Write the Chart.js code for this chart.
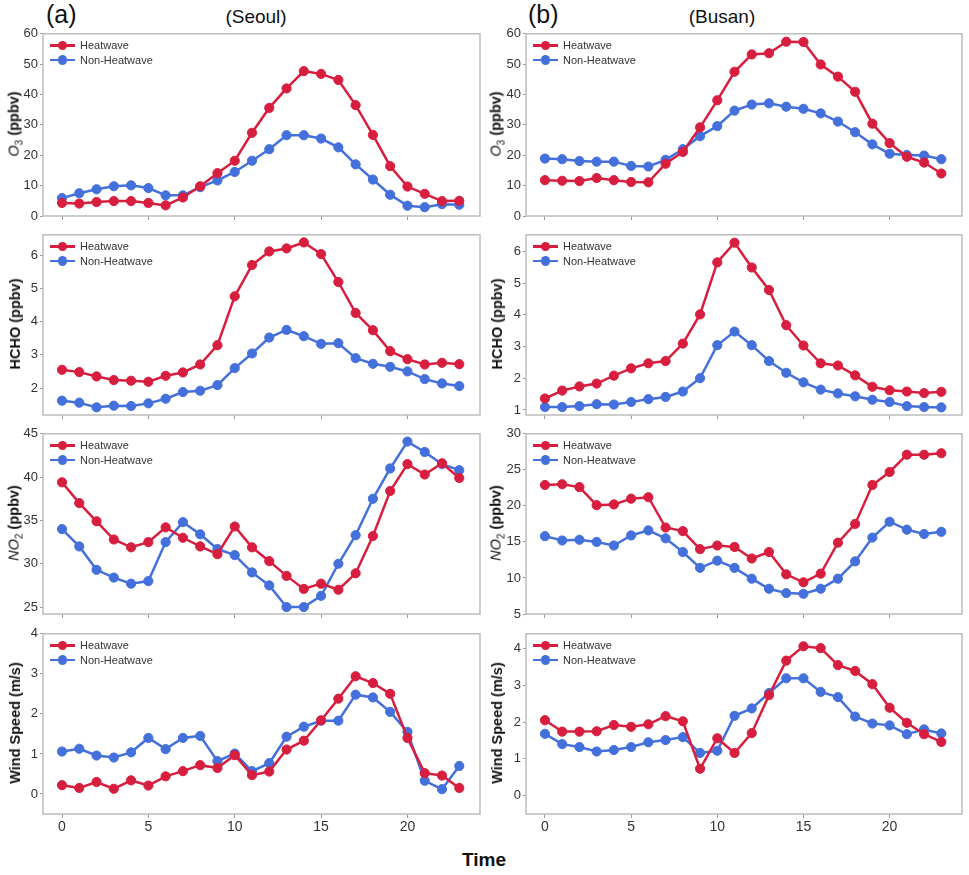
<!DOCTYPE html>
<html>
<head>
<meta charset="utf-8">
<script src="https://cdn.jsdelivr.net/npm/chart.js@4.4.1/dist/chart.umd.min.js"></script>
<style>
  body { margin: 0; background: #fff; font-family: "Liberation Sans", Arial, sans-serif; }
  #page { position: relative; width: 969px; height: 875px; overflow: hidden; }
  canvas.panel { position: absolute; }
  .ytitle { position: absolute; transform: translate(-50%, -50%) rotate(-90deg); white-space: nowrap; font-size: 14.5px; color: #111; }
  .ytitle sub { font-size: 10px; }
  .legend { position: absolute; font-size: 11px; color: #333; }
  .legend .item { height: 14.3px; line-height: 14.3px; position: relative; padding-left: 30px; white-space: nowrap; }
  .legend .ln { position: absolute; left: 0; top: 6px; width: 25px; height: 2.5px; }
  .legend .dot { position: absolute; left: 7.5px; top: 2.6px; width: 9.5px; height: 9.5px; border-radius: 50%; }
  .lab { position: absolute; white-space: nowrap; color: #111; }
</style>
</head>
<body>
<div id="page">
  <div class="lab" style="left:46px; top:0px; font-size:25px;">(a)</div>
  <div class="lab" style="left:256px; top:17px; font-size:19px; transform:translate(-50%,-50%);">(Seoul)</div>
  <div class="lab" style="left:528px; top:0px; font-size:25px;">(b)</div>
  <div class="lab" style="left:722px; top:17px; font-size:19px; transform:translate(-50%,-50%);">(Busan)</div>
  <div class="lab" style="left:484px; top:860px; font-size:19px; font-weight:bold; transform:translate(-50%,-50%);">Time</div>
</div>
<script>
// hour of day
const hours = [0,1,2,3,4,5,6,7,8,9,10,11,12,13,14,15,16,17,18,19,20,21,22,23];
const seriesNames = ["Heatwave", "Non-Heatwave"];

// O3 (ppbv)
const seoulO3Heat = [4.3,4.1,4.6,4.9,4.9,4.3,3.5,6.1,9.8,14.1,18.2,27.4,35.6,42.0,47.7,46.8,44.8,36.5,26.7,16.4,9.7,7.3,4.9,5.0];
const seoulO3Non  = [5.9,7.5,8.8,9.8,10.1,9.2,6.8,6.8,9.5,11.7,14.5,18.2,22.0,26.6,26.6,25.5,22.6,17.0,12.0,7.0,3.4,2.9,3.9,3.7];
const busanO3Heat = [11.8,11.6,11.5,12.5,11.8,11.2,11.1,17.2,21.1,29.2,38.1,47.5,53.2,53.6,57.4,57.3,49.9,45.9,40.9,30.4,24.0,19.5,17.6,14.0];
const busanO3Non  = [18.9,18.7,18.1,17.9,17.9,16.5,16.3,18.5,22.0,26.3,29.6,34.7,36.7,37.1,36.0,35.3,33.8,31.1,27.6,23.6,20.5,20.1,19.9,18.7];

// HCHO (ppbv)
const seoulHchoHeat = [2.55,2.48,2.35,2.24,2.22,2.19,2.37,2.47,2.71,3.29,4.76,5.70,6.11,6.20,6.38,6.03,5.19,4.26,3.74,3.11,2.87,2.71,2.76,2.72];
const seoulHchoNon  = [1.62,1.56,1.42,1.47,1.46,1.54,1.68,1.88,1.92,2.09,2.60,3.04,3.52,3.75,3.56,3.33,3.35,2.90,2.73,2.64,2.50,2.27,2.14,2.06];
const busanHchoHeat = [1.36,1.61,1.74,1.83,2.08,2.31,2.47,2.54,3.09,4.01,5.65,6.27,5.49,4.78,3.67,3.03,2.47,2.40,2.09,1.73,1.62,1.58,1.53,1.57];
const busanHchoNon  = [1.09,1.09,1.12,1.18,1.17,1.25,1.34,1.41,1.58,2.00,3.04,3.47,3.04,2.54,2.17,1.87,1.64,1.52,1.43,1.32,1.25,1.12,1.09,1.08];

// NO2 (ppbv)
const seoulNo2Heat = [39.4,37.0,34.9,32.8,31.9,32.5,34.2,33.0,32.0,31.1,34.3,31.9,30.3,28.6,27.1,27.7,27.0,28.9,33.2,38.4,41.5,40.3,41.6,39.9];
const seoulNo2Non  = [34.0,32.0,29.3,28.4,27.7,28.0,32.5,34.8,33.4,31.7,31.0,29.0,27.5,25.0,25.0,26.3,30.0,33.3,37.5,41.0,44.1,42.9,41.5,40.8];
const busanNo2Heat = [22.9,23.0,22.6,20.1,20.2,21.0,21.2,17.0,16.5,14.0,14.5,14.3,12.7,13.6,10.5,9.4,10.6,14.9,17.5,22.9,24.7,27.1,27.1,27.3];
const busanNo2Non  = [15.8,15.2,15.3,15.0,14.5,15.9,16.6,15.5,13.6,11.4,12.4,11.4,9.9,8.5,7.9,7.8,8.5,9.9,12.3,15.6,17.8,16.7,16.1,16.4];

// Wind speed (m/s)
const seoulWindHeat = [0.22,0.15,0.30,0.13,0.34,0.21,0.44,0.57,0.72,0.65,0.97,0.47,0.56,1.11,1.33,1.84,2.38,2.94,2.77,2.50,1.40,0.52,0.46,0.15];
const seoulWindNon  = [1.06,1.13,0.96,0.91,1.04,1.40,1.12,1.40,1.45,0.82,1.01,0.57,0.77,1.43,1.68,1.83,1.83,2.48,2.41,2.05,1.55,0.33,0.12,0.70];
const busanWindHeat = [2.05,1.74,1.74,1.75,1.92,1.87,1.94,2.16,2.02,0.73,1.56,1.16,1.70,2.73,3.67,4.06,4.01,3.55,3.39,3.03,2.39,1.98,1.67,1.46];
const busanWindNon  = [1.68,1.40,1.32,1.20,1.24,1.32,1.45,1.51,1.59,1.16,1.22,2.17,2.37,2.79,3.19,3.19,2.82,2.68,2.15,1.96,1.91,1.67,1.80,1.69];

// tick labels
const xTicks = [0,5,10,15,20];
const o3Ticks = [0,10,20,30,40,50,60];
const seoulHchoTicks = [2,3,4,5,6];
const busanHchoTicks = [1,2,3,4,5,6];
const seoulNo2Ticks = [25,30,35,40,45];
const busanNo2Ticks = [5,10,15,20,25,30];
const windTicks = [0,1,2,3,4];

const RED = "#d81e3f";
const BLUE = "#4470dc";

// frame positions (px) of the plot boxes
const colLeft = [43, 526], colRight = [480, 962];
const rowTop = [32, 233, 432, 632], rowBottom = [216, 415, 614, 814];
const titleX = [15, 497];

const O3_T = '<i>O</i><sub>3</sub> <b>(ppbv)</b>';
const HCHO_T = '<b>HCHO (ppbv)</b>';
const NO2_T = '<i>NO</i><sub>2</sub> <b>(ppbv)</b>';
const WIND_T = '<b>Wind Speed (m/s)</b>';

const panels = [
  { col:0, row:0, heat:seoulO3Heat,   non:seoulO3Non,   min:0,    max:60,   ticks:o3Ticks,        title:O3_T },
  { col:1, row:0, heat:busanO3Heat,   non:busanO3Non,   min:0,    max:60,   ticks:o3Ticks,        title:O3_T },
  { col:0, row:1, heat:seoulHchoHeat, non:seoulHchoNon, min:1.19, max:6.61, ticks:seoulHchoTicks, title:HCHO_T },
  { col:1, row:1, heat:busanHchoHeat, non:busanHchoNon, min:0.84, max:6.52, ticks:busanHchoTicks, title:HCHO_T },
  { col:0, row:2, heat:seoulNo2Heat,  non:seoulNo2Non,  min:24.2, max:45,   ticks:seoulNo2Ticks,  title:NO2_T },
  { col:1, row:2, heat:busanNo2Heat,  non:busanNo2Non,  min:5,    max:30,   ticks:busanNo2Ticks,  title:NO2_T },
  { col:0, row:3, heat:seoulWindHeat, non:seoulWindNon, min:-0.5, max:4,    ticks:windTicks,      title:WIND_T },
  { col:1, row:3, heat:busanWindHeat, non:busanWindNon, min:-0.5, max:4.4,  ticks:windTicks,      title:WIND_T }
];

const framePlugin = {
  id: "frame",
  beforeDatasetsDraw(chart) {
    const { ctx, chartArea: a } = chart;
    ctx.save();
    ctx.strokeStyle = "#bdbdbd";
    ctx.lineWidth = 1.5;
    ctx.strokeRect(a.left, a.top, a.right - a.left, a.bottom - a.top);
    ctx.restore();
  }
};

const page = document.getElementById("page");

function series(label, values, color) {
  return {
    label: label,
    data: hours.map((h, i) => ({ x: h, y: values[i] })),
    borderColor: color,
    backgroundColor: color,
    borderWidth: 2.5,
    pointRadius: 4.6,
    pointBorderWidth: 1,
    tension: 0
  };
}

function makePanel(p) {
  const fl = colLeft[p.col], fr = colRight[p.col];
  const ft = rowTop[p.row], fb = rowBottom[p.row];
  const padL = 43, padT = 8, padR = 4, padB = 26;
  const w = fr - fl + padL + padR, h = fb - ft + padT + padB;

  const canvas = document.createElement("canvas");
  canvas.className = "panel";
  canvas.width = w; canvas.height = h;
  canvas.style.left = (fl - padL) + "px";
  canvas.style.top = (ft - padT) + "px";
  canvas.style.width = w + "px";
  canvas.style.height = h + "px";
  page.appendChild(canvas);

  const tickGrid = { drawOnChartArea: false, drawTicks: true, color: "#9a9a9a" };

  new Chart(canvas, {
    type: "line",
    data: {
      datasets: [
        series(seriesNames[0], p.heat, RED),
        series(seriesNames[1], p.non, BLUE)
      ]
    },
    options: {
      responsive: false,
      animation: false,
      layout: { padding: { top: padT, right: padR, left: 0, bottom: 0 }, autoPadding: false },
      plugins: { legend: { display: false }, tooltip: { enabled: false } },
      scales: {
        x: {
          type: "linear", min: -1.1, max: 24.2,
          afterBuildTicks: s => { s.ticks = xTicks.map(v => ({ value: v })); },
          afterFit: s => { s.height = padB; },
          grid: Object.assign({ tickLength: 4 }, tickGrid),
          border: { display: false },
          ticks: { display: p.row === 3, color: "#333", padding: 1, maxRotation: 0,
                   font: { family: "Liberation Sans", size: 14 } }
        },
        y: {
          type: "linear", min: p.min, max: p.max,
          afterBuildTicks: s => { s.ticks = p.ticks.map(v => ({ value: v })); },
          afterFit: s => { s.width = padL; },
          grid: Object.assign({ tickLength: 3 }, tickGrid),
          border: { display: false },
          ticks: { color: "#333", padding: 2, font: { family: "Liberation Sans", size: 13 } }
        }
      }
    },
    plugins: [framePlugin]
  });

  // y axis title
  const t = document.createElement("div");
  t.className = "ytitle";
  t.style.left = titleX[p.col] + "px";
  t.style.top = ((ft + fb) / 2) + "px";
  t.innerHTML = p.title;
  page.appendChild(t);

  // legend inside the box, top left
  const lg = document.createElement("div");
  lg.className = "legend";
  lg.style.left = (fl + 7) + "px";
  lg.style.top = (ft + 6.3) + "px";
  [[seriesNames[0], RED], [seriesNames[1], BLUE]].forEach(([name, c]) => {
    const it = document.createElement("div");
    it.className = "item";
    it.innerHTML = `<span class="ln" style="background:${c}"></span><span class="dot" style="background:${c}"></span>${name}`;
    lg.appendChild(it);
  });
  page.appendChild(lg);
}

panels.forEach(makePanel);
</script>
</body>
</html>
